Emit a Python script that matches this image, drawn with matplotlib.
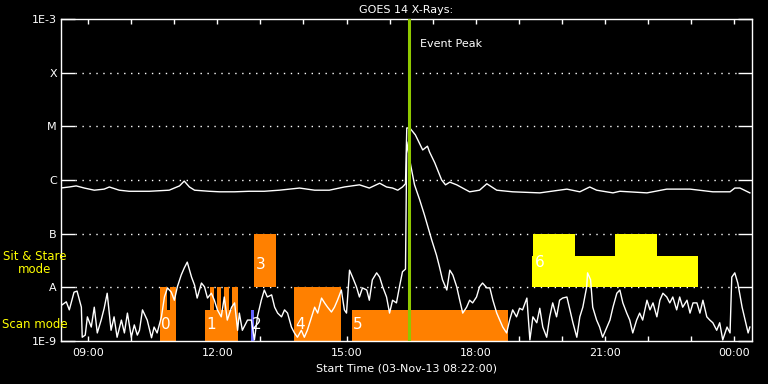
import numpy as np
from matplotlib import pyplot as plt
from matplotlib.ticker import FixedLocator, FuncFormatter

# time in decimal hours of 03-Nov-13 (24 = 00:00 next day), flux as log10(W/m^2)
t_long = [8.35, 8.56, 8.72, 8.91, 9.14, 9.37, 9.49, 9.72, 9.95, 10.42, 10.88, 11.12, 11.23,
          11.35, 11.47, 11.81, 12.05, 12.40, 12.74, 13.09, 13.44, 13.91, 14.26, 14.60, 14.95,
          15.30, 15.53, 15.77, 15.93, 16.07, 16.19, 16.30, 16.37, 16.40, 16.47, 16.60, 16.77,
          16.88, 16.93, 17.05, 17.21, 17.30, 17.40, 17.56, 17.86, 18.09, 18.26, 18.49, 18.86,
          19.49, 20.12, 20.42, 20.65, 20.81, 21.19, 21.35, 21.98, 22.44, 22.98, 23.51, 23.91,
          24.02, 24.14, 24.37]
f_long = [-6.15, -6.13, -6.11, -6.15, -6.19, -6.17, -6.13, -6.19, -6.21, -6.21, -6.19, -6.11,
          -6.02, -6.13, -6.19, -6.21, -6.22, -6.22, -6.21, -6.21, -6.19, -6.15, -6.19, -6.19,
          -6.13, -6.09, -6.15, -6.06, -6.13, -6.15, -6.19, -6.13, -6.07, -5.03, -5.03, -5.16,
          -5.44, -5.37, -5.48, -5.68, -6.00, -6.09, -6.04, -6.09, -6.22, -6.19, -6.07, -6.19,
          -6.22, -6.24, -6.17, -6.22, -6.13, -6.19, -6.24, -6.21, -6.24, -6.17, -6.17, -6.22,
          -6.22, -6.15, -6.15, -6.24]

t_short = [8.35, 8.49, 8.56, 8.67, 8.74, 8.84, 8.86, 8.93, 8.98, 9.07, 9.14, 9.21, 9.30, 9.37,
           9.44, 9.53, 9.60, 9.67, 9.77, 9.84, 9.91, 10.00, 10.07, 10.14, 10.19, 10.26, 10.37,
           10.47, 10.53, 10.60, 10.70, 10.77, 10.84, 10.93, 11.00, 11.07, 11.16, 11.23, 11.30,
           11.40, 11.47, 11.53, 11.63, 11.70, 11.77, 11.86, 11.93, 12.00, 12.09, 12.16, 12.23,
           12.33, 12.40, 12.47, 12.51, 12.58, 12.70, 12.79, 12.86, 12.93, 13.02, 13.09, 13.16,
           13.26, 13.33, 13.40, 13.49, 13.56, 13.63, 13.72, 13.79, 13.86, 13.95, 14.02, 14.09,
           14.19, 14.26, 14.33, 14.42, 14.49, 14.56, 14.65, 14.72, 14.79, 14.88, 14.95, 15.00,
           15.07, 15.14, 15.23, 15.30, 15.37, 15.47, 15.53, 15.60, 15.70, 15.77, 15.84, 15.93,
           16.00, 16.07, 16.16, 16.23, 16.30, 16.37, 16.40, 16.49, 16.58, 16.70, 16.81, 16.98,
           17.09, 17.16, 17.23, 17.33, 17.40, 17.47, 17.56, 17.63, 17.70, 17.79, 17.86, 17.93,
           18.02, 18.09, 18.16, 18.26, 18.33, 18.40, 18.49, 18.56, 18.63, 18.72, 18.79, 18.86,
           18.95, 19.02, 19.09, 19.19, 19.26, 19.33, 19.42, 19.49, 19.56, 19.65, 19.72, 19.79,
           19.88, 19.95, 20.02, 20.12, 20.19, 20.26, 20.35, 20.42, 20.49, 20.58, 20.60, 20.67,
           20.72, 20.81, 20.88, 20.95, 21.05, 21.12, 21.19, 21.28, 21.35, 21.42, 21.51, 21.58,
           21.65, 21.74, 21.81, 21.88, 21.98, 22.05, 22.12, 22.21, 22.28, 22.35, 22.44, 22.51,
           22.58, 22.67, 22.74, 22.81, 22.91, 22.98, 23.05, 23.14, 23.21, 23.28, 23.37, 23.44,
           23.51, 23.60, 23.67, 23.74, 23.84, 23.91, 23.95, 24.02, 24.09, 24.19, 24.26, 24.33,
           24.37]
f_short = [-8.35, -8.27, -8.42, -8.09, -8.07, -8.37, -8.93, -8.89, -8.55, -8.74, -8.37, -8.85,
           -8.61, -8.39, -8.11, -8.80, -8.55, -8.93, -8.61, -8.85, -8.48, -8.93, -8.70, -8.89,
           -8.80, -8.42, -8.61, -8.94, -8.74, -8.85, -8.55, -8.18, -8.01, -8.09, -8.24, -7.99,
           -7.77, -7.64, -7.53, -7.81, -7.96, -8.20, -7.92, -7.99, -8.20, -8.11, -8.24, -8.42,
           -8.55, -8.18, -8.61, -8.37, -8.29, -8.80, -8.48, -8.80, -8.61, -8.61, -8.98, -8.55,
           -8.24, -8.05, -8.18, -8.14, -8.37, -8.48, -8.55, -8.42, -8.48, -8.74, -8.85, -8.93,
           -8.80, -8.93, -8.80, -8.55, -8.37, -8.48, -8.20, -8.29, -8.37, -8.46, -8.37, -8.24,
           -8.05, -8.42, -8.48, -7.68, -7.81, -7.99, -8.18, -8.01, -8.05, -8.24, -7.86, -7.73,
           -7.81, -7.99, -8.18, -8.48, -8.24, -8.29, -7.99, -7.71, -7.66, -5.29, -5.72, -6.09,
           -6.37, -6.65, -7.12, -7.40, -7.62, -7.86, -8.05, -7.68, -7.77, -7.99, -8.24, -8.48,
           -8.37, -8.24, -8.29, -8.18, -7.99, -7.92, -8.01, -8.01, -8.24, -8.48, -8.61, -8.74,
           -8.85, -8.61, -8.42, -8.55, -8.39, -8.42, -8.20, -8.98, -8.55, -8.66, -8.39, -8.74,
           -8.93, -8.55, -8.29, -8.55, -8.24, -8.20, -8.18, -8.42, -8.66, -8.93, -8.55, -8.37,
           -7.99, -7.73, -7.86, -8.37, -8.61, -8.74, -8.93, -8.74, -8.61, -8.37, -8.11, -8.05,
           -8.29, -8.48, -8.61, -8.85, -8.61, -8.48, -8.61, -8.24, -8.42, -8.29, -8.55, -8.24,
           -8.11, -8.18, -8.29, -8.18, -8.42, -8.18, -8.37, -8.24, -8.48, -8.29, -8.29, -8.48,
           -8.24, -8.55, -8.61, -8.66, -8.80, -8.66, -8.98, -8.74, -8.85, -7.81, -7.73, -7.92,
           -8.37, -8.61, -8.85, -8.74]

# observation blocks: start, end, bottom flux, top flux
scan_start = [10.67, 10.84, 10.91, 11.72, 11.82, 11.98, 12.16, 12.35, 12.84, 13.77, 15.12]
scan_end = [10.84, 10.91, 11.05, 12.47, 11.91, 12.09, 12.26, 12.47, 13.37, 14.88, 18.74]
scan_bot = [1e-9, 1e-9, 1e-9, 1e-9, 1e-9, 1e-9, 1e-9, 1e-9, 1e-8, 1e-9, 1e-9]
scan_top = [1e-8, 3.8e-9, 1e-8, 3.8e-9, 1e-8, 1e-8, 1e-8, 1e-8, 1e-7, 1e-8, 3.8e-9]
blue_start, blue_end, blue_top = 12.77, 12.84, 3.8e-9
sit_start = [19.30, 19.33, 21.23]
sit_end = [23.16, 20.30, 22.21]
sit_top = [3.8e-8, 1e-7, 1e-7]

obs_labels = ["0", "1", "2", "3", "4", "5", "6"]
obs_label_t = [10.70, 11.75, 12.80, 12.90, 13.82, 15.15, 19.37]
obs_label_f = [1.5e-9, 1.5e-9, 1.5e-9, 1.9e-8, 1.5e-9, 1.5e-9, 2.1e-8]

event_peak = 16.44
t_start, t_end = 8.367, 24.42
hour_ticks = [9, 12, 15, 18, 21, 24]
flux_ticks = [1e-9, 1e-8, 1e-7, 1e-6, 1e-5, 1e-4, 1e-3]
flux_names = ["1E-9", "A", "B", "C", "M", "X", "1E-3"]

plt.rcParams['font.family'] = ['DejaVu Sans']
fig = plt.figure(figsize=(7.68, 3.84), dpi=100, facecolor='black')
ax = fig.add_axes([61/768, 43/384, 691/768, 322/384], facecolor='black')

for i in range(len(scan_start)):
    ax.fill_between([scan_start[i], scan_end[i]], scan_bot[i], scan_top[i],
                    color='#ff8000', lw=0, zorder=2)
ax.fill_between([blue_start, blue_end], 1e-9, blue_top, color='#6464ff', lw=0, zorder=2)
for i in range(len(sit_start)):
    ax.fill_between([sit_start[i], sit_end[i]], 1e-8, sit_top[i],
                    color='#ffff00', lw=0, zorder=2)

for lv in flux_ticks[1:-1]:
    ax.axhline(lv, xmin=0.02, xmax=0.98, color='white', lw=1,
               linestyle=(0, (1, 4)), zorder=1)

ax.plot(t_long, 10**np.array(f_long), color='white', lw=1, zorder=3)
ax.plot(t_short, 10**np.array(f_short), color='white', lw=1, zorder=3)
ax.axvline(event_peak, color='#8fc800', lw=2.2, zorder=4)
ax.text(event_peak + 0.26, 10**-3.47, "Event Peak", color='white', fontsize=8,
        va='center', ha='left')

for s, tt, ff in zip(obs_labels, obs_label_t, obs_label_f):
    ax.text(tt, ff, s, color='white', fontsize=11, va='bottom', ha='left', zorder=5)

ax.set_yscale('log')
ax.set_ylim(1e-9, 1e-3)
ax.set_xlim(t_start, t_end)
ax.yaxis.set_major_locator(FixedLocator(flux_ticks))
ax.yaxis.set_minor_locator(FixedLocator([]))
ax.set_yticklabels(flux_names)
ax.xaxis.set_major_locator(FixedLocator(hour_ticks))
ax.xaxis.set_minor_locator(FixedLocator(list(range(9, 25))))
ax.xaxis.set_major_formatter(FuncFormatter(lambda v, p: "%02d:00" % (int(round(v)) % 24)))

for sp in ax.spines.values():
    sp.set_color('white')
    sp.set_linewidth(1)
ax.tick_params(axis='y', which='major', direction='in', length=10, width=1,
               colors='white', labelsize=8, left=True, right=True, pad=3)
ax.tick_params(axis='x', which='both', direction='in', length=3.5, width=1,
               colors='white', labelsize=8, top=True, bottom=True, pad=5)

ax.set_title("GOES 14 X-Rays:", color='white', fontsize=8, pad=4)
ax.set_xlabel("Start Time (03-Nov-13 08:22:00)", color='white', fontsize=8, labelpad=4)

fig.text(35/768, 1 - 263/384, "Sit & Stare\nmode", color='#ffff00', fontsize=8.5,
         ha='center', va='center', linespacing=1.0)
fig.text(2/768, 1 - 324/384, "Scan mode", color='#ffff00', fontsize=8.5,
         ha='left', va='center')

fig.savefig("out.png", dpi=100, facecolor='black')
